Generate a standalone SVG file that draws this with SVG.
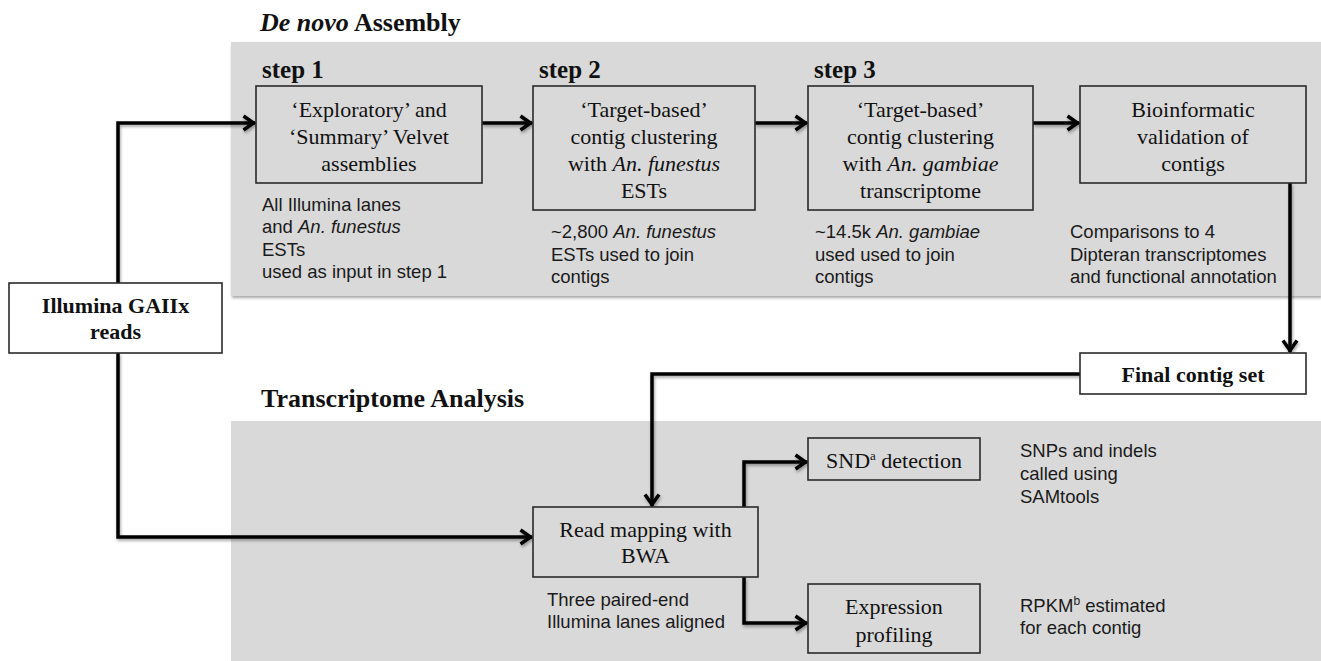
<svg xmlns="http://www.w3.org/2000/svg" width="1321" height="661" viewBox="0 0 1321 661">
<style>
.panel{fill:#d9d9d9;}
.box{fill:#d9d9d9;stroke:#2a2a2a;stroke-width:1.6;}
.wbox{fill:#ffffff;stroke:#2a2a2a;stroke-width:1.6;}
.t{font-family:"Liberation Serif","Times New Roman",serif;font-size:22px;fill:#111;text-anchor:middle;}
.tb{font-family:"Liberation Serif","Times New Roman",serif;font-size:22px;font-weight:bold;fill:#111;text-anchor:middle;}
.h{font-family:"Liberation Serif","Times New Roman",serif;font-size:26px;font-weight:bold;fill:#111;}
.step{font-family:"Liberation Serif","Times New Roman",serif;font-size:25px;font-weight:bold;fill:#111;}
.a{font-family:"Liberation Sans",Arial,sans-serif;font-size:18.5px;fill:#1a1a1a;}
.conn{fill:none;stroke:#000;stroke-width:3.5;stroke-linejoin:miter;marker-end:url(#arr);}
</style>
<defs>
<filter id="sh" x="-5%" y="-5%" width="110%" height="115%">
<feDropShadow dx="1" dy="2" stdDeviation="1.5" flood-color="#000" flood-opacity="0.35"/>
</filter>
<marker id="arr" markerUnits="userSpaceOnUse" viewBox="-13 -10 16 20" refX="1.5" refY="0" markerWidth="16" markerHeight="20" orient="auto">
<path d="M-10,-7 L0,0 L-10,7" fill="none" stroke="#000" stroke-width="3.5"/>
</marker>
</defs>

<rect width="1321" height="661" fill="#ffffff"/>

<g id="panel-assembly">
<text class="h" x="260" y="31"><tspan font-style="italic">De novo</tspan> Assembly</text>
<rect class="panel" x="231" y="42" width="1090" height="254" filter="url(#sh)"/>
</g>
<g id="panel-transcriptome">
<text class="h" x="261" y="407">Transcriptome Analysis</text>
<rect class="panel" x="231" y="421" width="1090" height="240"/>
</g>

<g id="connectors" filter="url(#sh)">
<path class="conn" d="M118,283 V123 H255"/>
<path class="conn" d="M482,123 H532"/>
<path class="conn" d="M755,123 H807"/>
<path class="conn" d="M1033,123 H1079"/>
<path class="conn" d="M1290,183 V352"/>
<path class="conn" d="M1080,374 H652 V506"/>
<path class="conn" d="M118,353 V537 H532"/>
<path class="conn" d="M744,507 V462 H807"/>
<path class="conn" d="M744,577 V623 H807"/>
</g>

<g id="illumina">
<rect class="wbox" x="9" y="283" width="213" height="70"/>
<text class="tb" x="115.5" y="313">Illumina GAIIx</text>
<text class="tb" x="115.5" y="339">reads</text>
</g>

<g id="step1">
<text class="step" x="262" y="78">step 1</text>
<rect class="box" x="256" y="86" width="226" height="97"/>
<text class="t" x="369" y="117">‘Exploratory’ and</text>
<text class="t" x="369" y="144">‘Summary’ Velvet</text>
<text class="t" x="369" y="171">assemblies</text>
<text class="a" x="262" y="211">All Illumina lanes</text>
<text class="a" x="262" y="233">and <tspan font-style="italic">An. funestus</tspan></text>
<text class="a" x="262" y="256">ESTs</text>
<text class="a" x="262" y="278">used as input in step 1</text>
</g>

<g id="step2">
<text class="step" x="539" y="78">step 2</text>
<rect class="box" x="533" y="86" width="222" height="124"/>
<text class="t" x="644" y="117">‘Target-based’</text>
<text class="t" x="644" y="144">contig clustering</text>
<text class="t" x="644" y="171">with <tspan font-style="italic">An. funestus</tspan></text>
<text class="t" x="644" y="198">ESTs</text>
<text class="a" x="551" y="238">~2,800 <tspan font-style="italic">An. funestus</tspan></text>
<text class="a" x="551" y="261">ESTs used to join</text>
<text class="a" x="551" y="283">contigs</text>
</g>

<g id="step3">
<text class="step" x="814" y="78">step 3</text>
<rect class="box" x="808" y="86" width="225" height="124"/>
<text class="t" x="920.5" y="117">‘Target-based’</text>
<text class="t" x="920.5" y="144">contig clustering</text>
<text class="t" x="920.5" y="171">with <tspan font-style="italic">An. gambiae</tspan></text>
<text class="t" x="920.5" y="198">transcriptome</text>
<text class="a" x="815" y="238">~14.5k <tspan font-style="italic">An. gambiae</tspan></text>
<text class="a" x="815" y="261">used used to join</text>
<text class="a" x="815" y="283">contigs</text>
</g>

<g id="validation">
<rect class="box" x="1080" y="86" width="226" height="97"/>
<text class="t" x="1193" y="117">Bioinformatic</text>
<text class="t" x="1193" y="144">validation of</text>
<text class="t" x="1193" y="171">contigs</text>
<text class="a" x="1070" y="238">Comparisons to 4</text>
<text class="a" x="1070" y="261">Dipteran transcriptomes</text>
<text class="a" x="1070" y="283">and functional annotation</text>
</g>

<g id="final">
<rect class="wbox" x="1080" y="353" width="226" height="41"/>
<text class="tb" x="1193" y="382">Final contig set</text>
</g>

<g id="readmap">
<rect class="box" x="533" y="507" width="225" height="70"/>
<text class="t" x="645.5" y="537">Read mapping with</text>
<text class="t" x="645.5" y="563">BWA</text>
<text class="a" x="547" y="606">Three paired-end</text>
<text class="a" x="547" y="628">Illumina lanes aligned</text>
</g>

<g id="snd">
<rect class="box" x="808" y="438" width="172" height="42"/>
<text class="t" x="894" y="468">SND<tspan font-size="13" dy="-8">a</tspan><tspan dy="8"> detection</tspan></text>
<text class="a" x="1020" y="457">SNPs and indels</text>
<text class="a" x="1020" y="480">called using</text>
<text class="a" x="1020" y="503">SAMtools</text>
</g>

<g id="expression">
<rect class="box" x="808" y="584" width="172" height="69"/>
<text class="t" x="894" y="614">Expression</text>
<text class="t" x="894" y="642">profiling</text>
<text class="a" x="1020" y="612">RPKM<tspan font-size="12" dy="-7">b</tspan><tspan dy="7"> estimated</tspan></text>
<text class="a" x="1020" y="634">for each contig</text>
</g>
</svg>
